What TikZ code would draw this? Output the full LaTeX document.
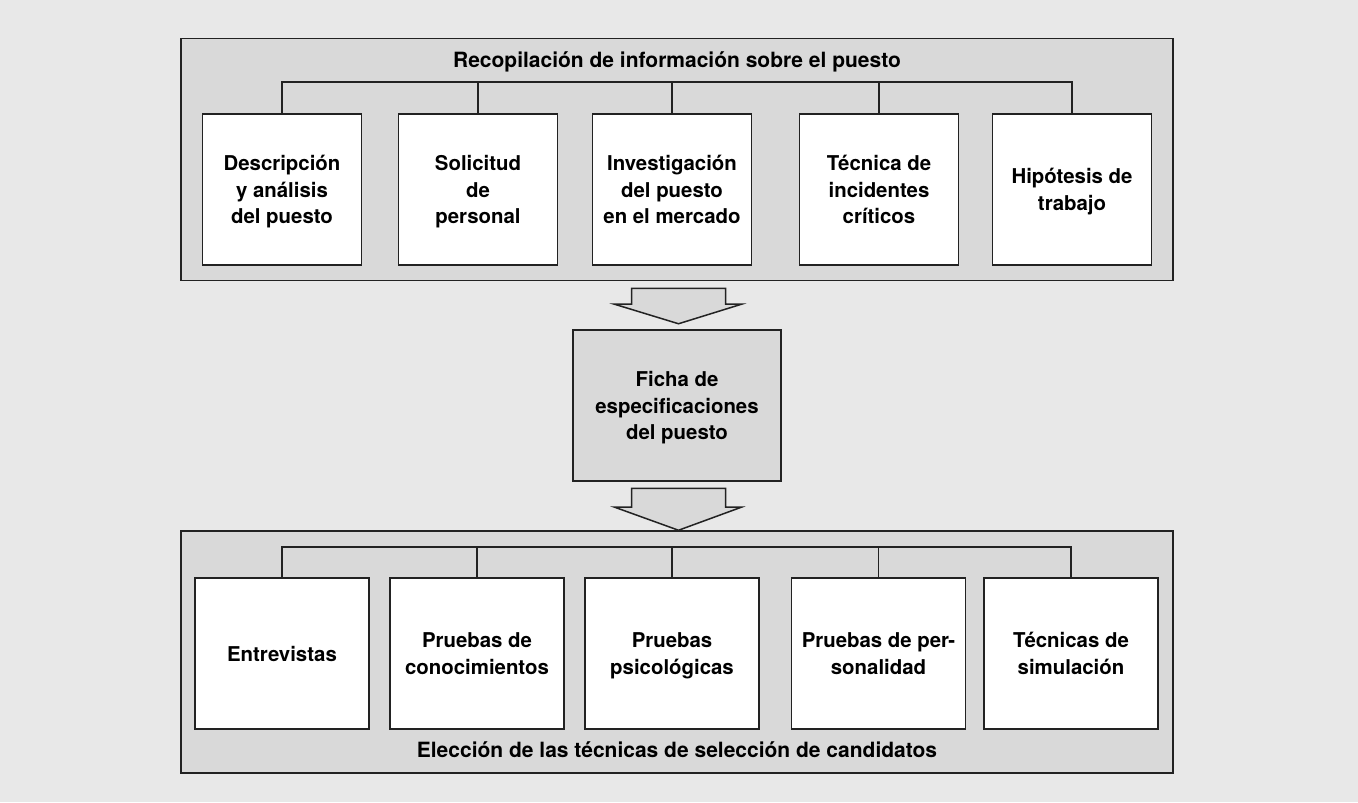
\documentclass[tikz,border=0pt]{standalone}
\usepackage{fontspec}
\setmainfont{TeX Gyre Heros}
\usetikzlibrary{calc,positioning}

\definecolor{bggray}{HTML}{E8E8E8}
\definecolor{panelgray}{HTML}{D9D9D9}
\definecolor{linegray}{HTML}{222222}

% block arrow between two points: shaft top (#1), tip (#2)
\newcommand{\blockarrow}[2]{%
  \draw[arrowbox] ($(#1)+(-47,0)$) -- ($(#1)+(47,0)$)
    -- ($(#1)!0.45!(#2)+(47,0)$) -- ($(#1)!0.45!(#2)+(63,0)$)
    -- (#2)
    -- ($(#1)!0.45!(#2)+(-64,0)$) -- ($(#1)!0.45!(#2)+(-47,0)$) -- cycle;}

\begin{document}
\begin{tikzpicture}[x=0.5pt, y=-0.5pt, line join=miter,
  font=\fontsize{10.2}{13.2}\selectfont\bfseries,
  panel/.style={draw=linegray, line width=0.75pt, fill=panelgray, minimum width=496pt, minimum height=121pt, inner sep=0pt},
  paneltitle/.style={anchor=base, font=\fontsize{10.5}{13}\selectfont\bfseries},
  topbox/.style={draw=linegray, line width=0.75pt, fill=white, minimum width=79.5pt, minimum height=75.5pt,
    align=center, inner sep=0pt, text depth=0pt, execute at begin node={\rule{0pt}{7.8pt}}},
  lowbox/.style={topbox, minimum width=87pt},
  arrowbox/.style={draw=linegray, line width=0.75pt, fill=panelgray},
  bus/.style={draw=linegray, line width=0.6pt}]

  \fill[bggray] (0,0) rectangle (1358,802);

  % panels
  \node[panel] (info) at (677,159.5) {};
  \node[panel] (tec) at (677,652) {};
  \node[paneltitle] (infotitle) at (677,68) {Recopilación de información sobre el puesto};
  \node[paneltitle] (tectitle) at (677,757) {Elección de las técnicas de selección de candidatos};

  % upper boxes
  \node[topbox] (desc) at (282,189.5) {Descripción\\y análisis\\del puesto};
  \node[topbox] (sol) at (478,189.5) {Solicitud\\de\\personal};
  \node[topbox] (inv) at (672,189.5) {Investigación\\del puesto\\en el mercado};
  \node[topbox] (inc) at (879,189.5) {Técnica de\\incidentes\\críticos};
  \node[topbox] (hip) at (1072,189.5) {Hipótesis de\\trabajo};

  \coordinate (topbus) at (0,82);
  \draw[bus] (desc.north) -- (desc.north |- topbus) -- (hip.north |- topbus) -- (hip.north);
  \foreach \n in {sol,inv,inc}
    \draw[bus] (\n.north) -- (\n.north |- topbus);

  % middle box
  \node[topbox, fill=panelgray, minimum width=104pt] (ficha) at (677,405.5) {Ficha de\\especificaciones\\del puesto};

  % lower boxes
  \node[lowbox] (ent) at (282,653.5) {Entrevistas};
  \node[lowbox] (con) at (477,653.5) {Pruebas de\\conocimientos};
  \node[lowbox] (psi) at (672,653.5) {Pruebas\\psicológicas};
  \node[lowbox] (per) at (878.5,653.5) {Pruebas de per-\\sonalidad};
  \node[lowbox] (sim) at (1071,653.5) {Técnicas de\\simulación};

  \coordinate (lowbus) at (0,547);
  \draw[bus] (ent.north) -- (ent.north |- lowbus) -- (sim.north |- lowbus) -- (sim.north);
  \foreach \n in {con,psi,per}
    \draw[bus] (\n.north) -- (\n.north |- lowbus);

  % block arrows
  \coordinate (a1) at ($(info.south)+(1.5,7)$);
  \coordinate (b1) at ($(ficha.north)+(1.5,-5.5)$);
  \blockarrow{a1}{b1}
  \coordinate (a2) at ($(ficha.south)+(1.5,6.5)$);
  \coordinate (b2) at ($(tec.north)+(1.5,0)$);
  \blockarrow{a2}{b2}
\end{tikzpicture}
\end{document}
